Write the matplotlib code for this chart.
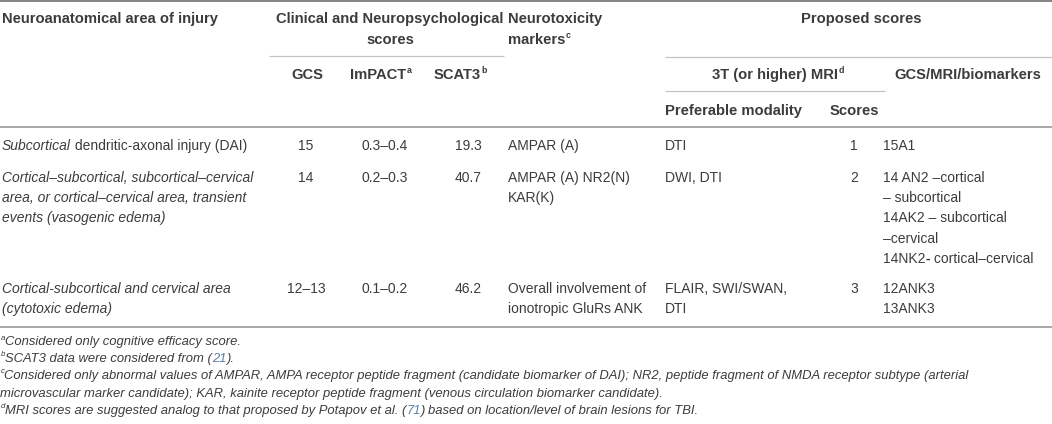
import matplotlib
matplotlib.use('Agg')
import matplotlib.pyplot as plt

# Table content
areas = [
    ['Subcortical dendritic-axonal injury (DAI)'],
    ['Cortical–subcortical, subcortical–cervical', 'area, or cortical–cervical area, transient',
     'events (vasogenic edema)'],
    ['Cortical-subcortical and cervical area', '(cytotoxic edema)'],
]
gcs = ['15', '14', '12–13']
impact = ['0.3–0.4', '0.2–0.3', '0.1–0.2']
scat3 = ['19.3', '40.7', '46.2']
markers = [['AMPAR (A)'], ['AMPAR (A) NR2(N)', 'KAR(K)'], ['Overall involvement of', 'ionotropic GluRs ANK']]
modality = [['DTI'], ['DWI, DTI'], ['FLAIR, SWI/SWAN,', 'DTI']]
mri_scores = ['1', '2', '3']
combined = [['15A1'],
            ['14 AN2 –cortical', '– subcortical', '14AK2 – subcortical', '–cervical', '14NK2- cortical–cervical'],
            ['12ANK3', '13ANK3']]
footnotes = [
    ('a', 'Considered only cognitive efficacy score.'),
    ('b', 'SCAT3 data were considered from (21).'),
    ('c', 'Considered only abnormal values of AMPAR, AMPA receptor peptide fragment (candidate biomarker of DAI); '
          'NR2, peptide fragment of NMDA receptor subtype (arterial'),
    ('', 'microvascular marker candidate); KAR, kainite receptor peptide fragment (venous circulation biomarker candidate).'),
    ('d', 'MRI scores are suggested analog to that proposed by Potapov et al. (71) based on location/level of brain lesions for TBI.'),
]

FONT = 'Liberation Sans'
TXT = '#3c3c3c'
FS = 10.0
FS_HEAD = 10.6
FS_NOTE = 9.4
LINE = 20.3

fig = plt.figure(figsize=(10.52, 4.24), dpi=100)
ax = fig.add_axes([0, 0, 1, 1])
ax.set_xlim(0, 1052)
ax.set_ylim(424, 0)
ax.axis('off')
fig.canvas.draw()
renderer = fig.canvas.get_renderer()


def runs(x, y, parts, ha='left'):
    # draw text pieces one after another; 'sup' pieces are raised and smaller
    objs = []
    cx = x
    for s, kw in parts:
        kw = dict(kw)
        sup = kw.pop('sup', False)
        size = kw.pop('size', FS)
        color = kw.pop('color', TXT)
        if sup:
            t = ax.text(cx + 0.5, y - size * 0.6, s, fontsize=size * 0.6, family=FONT, color=color,
                        va='baseline', ha='left', **kw)
        else:
            t = ax.text(cx, y, s, fontsize=size, family=FONT, color=color,
                        va='baseline', ha='left', **kw)
        cx += t.get_window_extent(renderer).width + (0.5 if sup else 0)
        objs.append(t)
    if ha == 'center':
        shift = (cx - x) / 2
        for t in objs:
            px, py = t.get_position()
            t.set_position((px - shift, py))


def hline(y, x0, x1, color, lw):
    ax.plot([x0, x1], [y, y], color=color, lw=lw, solid_capstyle='butt')


# rules
hline(1.2, 0, 1052, '#7a7a7a', 1.3)
hline(56, 269, 504, '#c4c4c4', 0.9)
hline(56.5, 665, 1052, '#c4c4c4', 0.9)
hline(91, 665, 885, '#c4c4c4', 0.9)
hline(126.8, 0, 1052, '#9a9a9a', 1.2)
hline(326.5, 0, 1052, '#9a9a9a', 1.2)

# header
B = {'weight': 'bold', 'size': FS_HEAD}
BS = {'weight': 'bold', 'size': FS_HEAD, 'sup': True}
off = 5.0
runs(2, 18 + off, [('Neuroanatomical area of injury', B)])
runs(390, 18 + off, [('Clinical and Neuropsychological', B)], ha='center')
runs(390, 39 + off, [('scores', B)], ha='center')
runs(508, 18 + off, [('Neurotoxicity', B)])
runs(508, 39 + off, [('markers', B), ('c', BS)])
runs(861, 18 + off, [('Proposed scores', B)], ha='center')
runs(307, 74 + off, [('GCS', B)], ha='center')
runs(381, 74 + off, [('ImPACT', B), ('a', BS)], ha='center')
runs(460, 74 + off, [('SCAT3', B), ('b', BS)], ha='center')
runs(778, 74 + off, [('3T (or higher) MRI', B), ('d', BS)], ha='center')
runs(968, 74 + off, [('GCS/MRI/biomarkers', B)], ha='center')
runs(665, 110 + off, [('Preferable modality', B)])
runs(854, 110 + off, [('Scores', B)], ha='center')

# body
row_y = [145, 177, 288]
I = {'style': 'italic'}
offb = 4.8
for i, y0 in enumerate(row_y):
    yb = y0 + offb
    for k, s in enumerate(areas[i]):
        if i == 0:
            first, rest = s.split(' ', 1)
            runs(2, yb + k * LINE, [(first, I), (' ' + rest, {})])
        else:
            runs(2, yb + k * LINE, [(s, I)])
    runs(306, yb, [(gcs[i], {})], ha='center')
    runs(385, yb, [(impact[i], {})], ha='center')
    runs(468, yb, [(scat3[i], {})], ha='center')
    for k, s in enumerate(markers[i]):
        runs(508, yb + k * LINE, [(s, {})])
    for k, s in enumerate(modality[i]):
        runs(665, yb + k * LINE, [(s, {})])
    runs(854, yb, [(mri_scores[i], {})], ha='center')
    for k, s in enumerate(combined[i]):
        if s.startswith('14NK2-'):
            runs(883, yb + k * LINE, [('14NK2', {}), ('-', {'weight': 'bold'}), (s[6:], {})])
        else:
            runs(883, yb + k * LINE, [(s, {})])

# footnotes
NI = {'style': 'italic', 'size': FS_NOTE}
NS = {'style': 'italic', 'size': FS_NOTE, 'sup': True}
LINK = {'style': 'italic', 'size': FS_NOTE, 'color': '#5b7fa8'}
note_y = [341, 357.5, 374.5, 392, 409.5]
for (mark, s), y0 in zip(footnotes, note_y):
    parts = []
    if mark:
        parts.append((mark, NS))
    for ref in ('(21)', '(71)'):
        if ref in s:
            a, b = s.split(ref)
            parts += [(a + '(', NI), (ref[1:-1], LINK), (')' + b, NI)]
            break
    else:
        parts.append((s, NI))
    runs(0, y0 + 4.5, parts)

fig.savefig('out.png', dpi=100, facecolor='white')
